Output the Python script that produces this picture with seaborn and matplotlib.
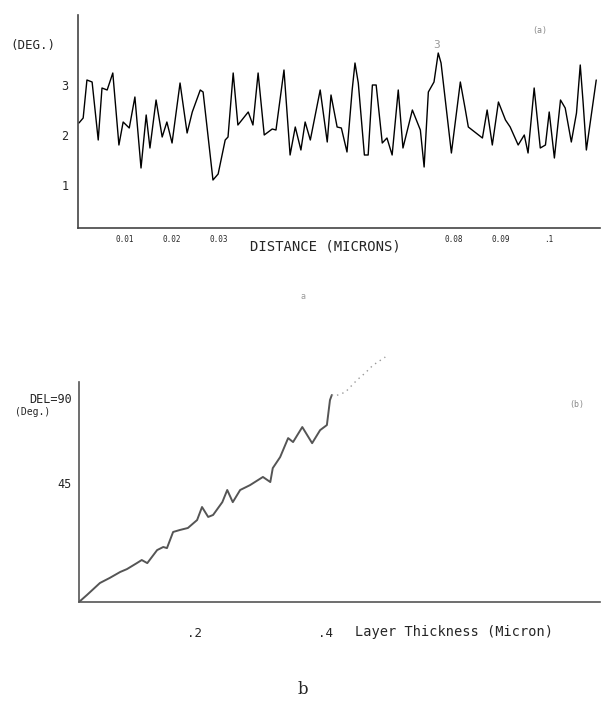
import numpy as np
import pandas as pd
import matplotlib
matplotlib.use("Agg")
import matplotlib.pyplot as plt
import seaborn as sns

sns.set_style("white")
plt.rcParams["font.family"] = ["DejaVu Sans Mono", "DejaVu Sans"]

# (a) phase vs distance
dist_um = [0.0002, 0.0011, 0.0019, 0.0030, 0.0043, 0.0051, 0.0062, 0.0074, 0.0087, 0.0096,
           0.0109, 0.0121, 0.0134, 0.0145, 0.0153, 0.0166, 0.0179, 0.0189, 0.0200, 0.0217,
           0.0232, 0.0243, 0.0260, 0.0266, 0.0287, 0.0298, 0.0313, 0.0319, 0.0330, 0.0340,
           0.0362, 0.0372, 0.0383, 0.0396, 0.0413, 0.0421, 0.0438, 0.0451, 0.0462, 0.0474,
           0.0483, 0.0494, 0.0515, 0.0530, 0.0538, 0.0551, 0.0560, 0.0572, 0.0583, 0.0589,
           0.0596, 0.0609, 0.0617, 0.0626, 0.0634, 0.0647, 0.0657, 0.0668, 0.0681, 0.0691,
           0.0711, 0.0728, 0.0736, 0.0745, 0.0757, 0.0766, 0.0772, 0.0794, 0.0813, 0.0823,
           0.0830, 0.0860, 0.0870, 0.0881, 0.0894, 0.0909, 0.0919, 0.0936, 0.0949, 0.0957,
           0.0970, 0.0983, 0.0994, 0.1002, 0.1013, 0.1026, 0.1036, 0.1049, 0.1060, 0.1068,
           0.1074, 0.1081, 0.1102]
phase_deg = [2.24, 2.34, 3.10, 3.06, 1.90, 2.94, 2.90, 3.24, 1.80, 2.26,
             2.14, 2.76, 1.34, 2.40, 1.74, 2.70, 1.96, 2.26, 1.84, 3.04,
             2.04, 2.46, 2.90, 2.86, 1.10, 1.22, 1.90, 1.96, 3.24, 2.20,
             2.46, 2.20, 3.24, 2.00, 2.12, 2.10, 3.30, 1.60, 2.16, 1.70,
             2.26, 1.90, 2.90, 1.86, 2.80, 2.16, 2.14, 1.66, 2.90, 3.44,
             3.04, 1.60, 1.60, 3.00, 3.00, 1.84, 1.94, 1.60, 2.90, 1.74,
             2.50, 2.10, 1.36, 2.86, 3.06, 3.64, 3.44, 1.64, 3.06, 2.54,
             2.16, 1.94, 2.50, 1.80, 2.66, 2.30, 2.16, 1.80, 2.00, 1.64,
             2.94, 1.74, 1.80, 2.46, 1.54, 2.70, 2.54, 1.86, 2.44, 3.40,
             2.66, 1.70, 3.10]
a_xticks = [0.01, 0.02, 0.03, 0.04, 0.05, 0.06, 0.07, 0.08, 0.09, 0.10]
a_xlabels = ["0.01", "0.02", "0.03", "", "", "", "", "0.08", "0.09", ".1"]
a_yticks = [1, 2, 3]

# (b) DEL vs layer thickness
thick_um = [0.000, 0.013, 0.034, 0.050, 0.067, 0.078, 0.094, 0.102, 0.111, 0.127,
            0.137, 0.143, 0.153, 0.164, 0.177, 0.192, 0.200, 0.210, 0.218, 0.233,
            0.241, 0.250, 0.262, 0.278, 0.299, 0.311, 0.315, 0.327, 0.340, 0.348,
            0.363, 0.379, 0.392, 0.403, 0.408, 0.411]
del_deg = [0.0, 3.2, 8.6, 10.9, 13.6, 14.9, 17.6, 19.0, 17.6, 23.5,
           24.9, 24.4, 31.7, 32.6, 33.5, 37.1, 43.0, 38.5, 39.4, 45.2,
           50.7, 45.2, 50.7, 52.9, 56.6, 54.3, 60.6, 65.6, 74.2, 72.4,
           79.2, 71.9, 77.8, 80.1, 91.4, 93.7]
thick_dot = [0.411, 0.416, 0.433, 0.452, 0.465, 0.478, 0.498]
del_dot = [93.7, 93.2, 95.0, 100.5, 103.6, 107.2, 110.9]
b_xticks = [0.187, 0.4]
b_xlabels = [".2", ".4"]
b_yticks = [51.6, 90]
b_ylabels = ["45", "DEL=90"]

df_a = pd.DataFrame({"x": dist_um, "y": phase_deg})
df_b = pd.DataFrame({"x": thick_um, "y": del_deg})
df_bd = pd.DataFrame({"x": thick_dot, "y": del_dot})

fig = plt.figure(figsize=(6.06, 7.06), dpi=100)

# ---- panel a
ax1 = fig.add_axes([78/606, 1-228/706, 522/606, 213/706])
sns.lineplot(data=df_a, x="x", y="y", ax=ax1, color="black", lw=1.0, sort=False)
ax1.set_xlim(0, 0.111)
ax1.set_ylim(0.14, 4.4)
for s in ["top", "right"]:
    ax1.spines[s].set_visible(False)
for s in ["left", "bottom"]:
    ax1.spines[s].set_color("#444444")
    ax1.spines[s].set_linewidth(1.2)
ax1.set_xticks(a_xticks)
ax1.set_xticklabels(a_xlabels, fontsize=5.5)
ax1.set_yticks(a_yticks)
ax1.set_yticklabels([str(v) for v in a_yticks], fontsize=8.5)
ax1.tick_params(axis="x", direction="inout", length=4, pad=3, color="#555555")
ax1.tick_params(axis="y", direction="out", length=6, pad=1, color="#555555")
ax1.set_xlabel("")
ax1.set_ylabel("")
fig.text(10/606, 1-45/706, "(DEG.)", fontsize=9, va="center", ha="left")
fig.text(325/606, 1-247/706, "DISTANCE (MICRONS)", fontsize=10, va="center", ha="center")
fig.text(540/606, 1-30/706, "(a)", fontsize=6, va="center", ha="center", color="#888888")
fig.text(437/606, 1-45/706, "3", fontsize=8, va="center", ha="center", color="#999999")
fig.text(303/606, 1-297/706, "a", fontsize=6, va="center", ha="center", color="#999999")

# ---- panel b
ax2 = fig.add_axes([79/606, 1-602/706, 521/606, 262/706])
sns.lineplot(data=df_b, x="x", y="y", ax=ax2, color="#555555", lw=1.4, sort=False)
sns.lineplot(data=df_bd, x="x", y="y", ax=ax2, color="#999999", lw=1.0, sort=False,
             linestyle=(0, (1, 3)))
ax2.set_xlim(0, 0.847)
ax2.set_ylim(0, 118.6)
for s in ["top", "right"]:
    ax2.spines[s].set_visible(False)
for s in ["left", "bottom"]:
    ax2.spines[s].set_color("#555555")
    ax2.spines[s].set_linewidth(1.2)
ax2.spines["left"].set_bounds(0, 99.5)
ax2.set_xticks(b_xticks)
ax2.set_xticklabels(b_xlabels, fontsize=9)
ax2.set_yticks(b_yticks)
ax2.set_yticklabels(b_ylabels, fontsize=8.5, va="baseline")
ax2.tick_params(axis="x", direction="inout", length=12, pad=12, color="#777777")
ax2.tick_params(axis="y", direction="out", length=4, pad=1, color="#777777")
ax2.set_xlabel("")
ax2.set_ylabel("")
fig.text(15/606, 1-407/706, "(Deg.)", fontsize=7, va="top", ha="left")
fig.text(355/606, 1-632/706, "Layer Thickness (Micron)", fontsize=9.8, va="center", ha="left")
fig.text(577/606, 1-404/706, "(b)", fontsize=6, va="center", ha="center", color="#888888")
fig.text(303/606, 1-690/706, "b", fontsize=12, va="center", ha="center",
         family=["DejaVu Serif"])

fig.savefig("out.png", dpi=100, facecolor="white")
